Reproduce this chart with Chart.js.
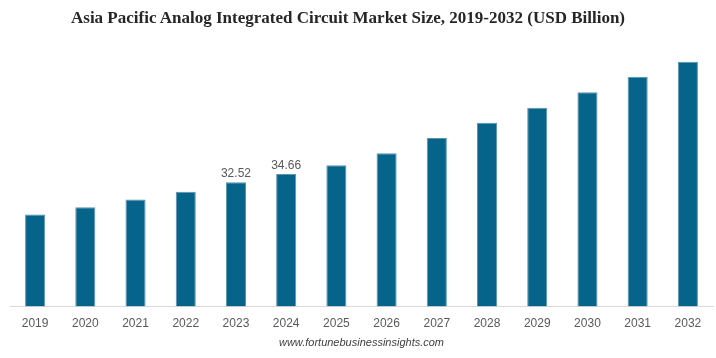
<!DOCTYPE html>
<html lang="en">
<head>
    <meta charset="UTF-8">
    <title>Asia Pacific Analog Integrated Circuit Market Size</title>
    <script src="https://cdn.jsdelivr.net/npm/chart.js"></script>
    <style>
        body { margin: 0; padding: 0; background: #ffffff; }
        #chart-container { position: relative; width: 716px; height: 358px; }
        #title {
            position: absolute;
            top: 8px;
            left: 0;
            width: 696px;
            text-align: center;
            font-family: "Liberation Serif", "Times New Roman", serif;
            font-size: 17px;
            font-weight: bold;
            color: #262626;
            white-space: nowrap;
        }
    </style>
</head>
<body>
    <div id="chart-container">
        <div id="title">Asia Pacific Analog Integrated Circuit Market Size, 2019-2032 (USD Billion)</div>
        <canvas id="marketChart"></canvas>
    </div>
    <script>
        const years = ['2019', '2020', '2021', '2022', '2023', '2024', '2025', '2026', '2027', '2028', '2029', '2030', '2031', '2032'];
        const marketSize = [24.06, 25.98, 28.0, 30.0, 32.52, 34.66, 36.92, 40.07, 44.08, 48.1, 52.03, 56.07, 60.09, 64.03];
        const shownLabels = ['', '', '', '', '32.52', '34.66', '', '', '', '', '', '', '', ''];

        // only a couple of bars carry value labels
        const valueLabels = {
            id: 'valueLabels',
            afterDatasetsDraw(chart) {
                const ctx = chart.ctx;
                const meta = chart.getDatasetMeta(0);
                ctx.save();
                ctx.font = '12px "Liberation Sans", Arial, sans-serif';
                ctx.fillStyle = '#595959';
                ctx.textAlign = 'center';
                ctx.textBaseline = 'bottom';
                meta.data.forEach((bar, i) => {
                    if (shownLabels[i]) {
                        ctx.fillText(shownLabels[i], bar.x, bar.y - 2);
                    }
                });
                ctx.restore();
            }
        };

        const ctx = document.getElementById('marketChart').getContext('2d');
        new Chart(ctx, {
            type: 'bar',
            data: {
                labels: years,
                datasets: [{
                    label: 'Market Size',
                    data: marketSize,
                    backgroundColor: '#066389',
                    borderColor: '#5d93ad',
                    borderWidth: 1,
                    barPercentage: 0.4,
                    categoryPercentage: 1.0
                }]
            },
            options: {
                responsive: true,
                maintainAspectRatio: false,
                animation: false,
                layout: { padding: { left: 10, right: 3, top: 39, bottom: 8 } },
                plugins: {
                    legend: { display: false },
                    tooltip: { enabled: false },
                    subtitle: {
                        display: true,
                        position: 'bottom',
                        text: 'www.fortunebusinessinsights.com',
                        color: '#404040',
                        font: { family: '"Liberation Sans", Arial, sans-serif', size: 11, style: 'italic' },
                        padding: { top: 4, bottom: 0 }
                    }
                },
                scales: {
                    x: {
                        grid: { display: false },
                        border: { color: '#d9d9d9' },
                        ticks: {
                            color: '#595959',
                            font: { family: '"Liberation Sans", Arial, sans-serif', size: 12 },
                            padding: 2
                        }
                    },
                    y: {
                        display: false,
                        min: 0,
                        max: 70
                    }
                }
            },
            plugins: [valueLabels]
        });
    </script>
</body>
</html>
